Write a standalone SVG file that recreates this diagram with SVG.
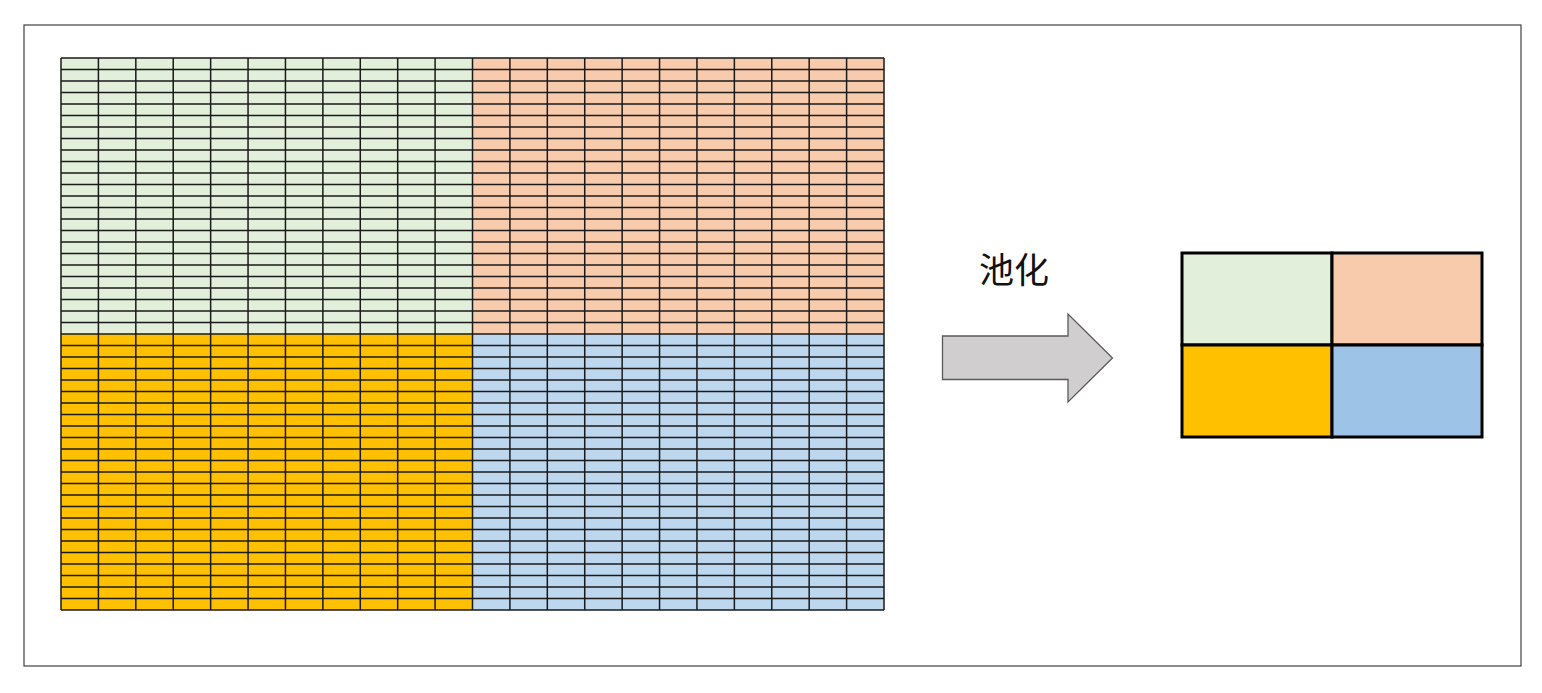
<svg xmlns="http://www.w3.org/2000/svg" width="1542" height="693" viewBox="0 0 1542 693">
<style>
.frame{fill:#fff;stroke:#404040;stroke-width:1.2}
.grid{fill:none;stroke:#1a1a1a;stroke-width:1.5}
.big{stroke:none}
.small{stroke:#000;stroke-width:3}
.g{fill:#E2EFDA}.p{fill:#F8CBAD}.o{fill:#FFC000}.b1{fill:#BDD7EE}.b2{fill:#9DC3E6}
.arrow{fill:#D0CECE;stroke:#595959;stroke-width:1.3}
.lbl{font-family:"Noto Sans CJK SC","Noto Sans",sans-serif;font-size:35px;fill:#111;text-anchor:middle}
</style>
<rect width="1542" height="693" fill="#fff"/>
<rect class="frame" x="24" y="25" width="1497" height="641"/>
<g id="input-grid">
<rect class="big g" x="61" y="58" width="411.5" height="276"/>
<rect class="big p" x="472.5" y="58" width="411.5" height="276"/>
<rect class="big o" x="61" y="334" width="411.5" height="276"/>
<rect class="big b1" x="472.5" y="334" width="411.5" height="276"/>
<path class="grid" d="M61 58H884M61 69.5H884M61 81H884M61 92.5H884M61 104H884M61 115.5H884M61 127H884M61 138.5H884M61 150H884M61 161.5H884M61 173H884M61 184.5H884M61 196H884M61 207.5H884M61 219H884M61 230.5H884M61 242H884M61 253.5H884M61 265H884M61 276.5H884M61 288H884M61 299.5H884M61 311H884M61 322.5H884M61 334H884M61 345.5H884M61 357H884M61 368.5H884M61 380H884M61 391.5H884M61 403H884M61 414.5H884M61 426H884M61 437.5H884M61 449H884M61 460.5H884M61 472H884M61 483.5H884M61 495H884M61 506.5H884M61 518H884M61 529.5H884M61 541H884M61 552.5H884M61 564H884M61 575.5H884M61 587H884M61 598.5H884M61 610H884"/>
<path class="grid" d="M61 58V610M98.41 58V610M135.82 58V610M173.23 58V610M210.64 58V610M248.05 58V610M285.45 58V610M322.86 58V610M360.27 58V610M397.68 58V610M435.09 58V610M472.5 58V610M509.91 58V610M547.32 58V610M584.73 58V610M622.14 58V610M659.55 58V610M696.95 58V610M734.36 58V610M771.77 58V610M809.18 58V610M846.59 58V610M884 58V610"/>
</g>
<g id="connectors">
<path id="pool-arrow" class="arrow" d="M942.5 336H1068V314L1112.5 358L1068 402V379.5H942.5Z"/>
</g>
<g id="label">
<text class="lbl" x="1014" y="283">池化</text>
</g>
<g id="output-grid">
<rect class="small g" x="1182" y="253" width="150" height="92"/>
<rect class="small p" x="1332" y="253" width="150" height="92"/>
<rect class="small o" x="1182" y="345" width="150" height="92"/>
<rect class="small b2" x="1332" y="345" width="150" height="92"/>
</g>
</svg>
